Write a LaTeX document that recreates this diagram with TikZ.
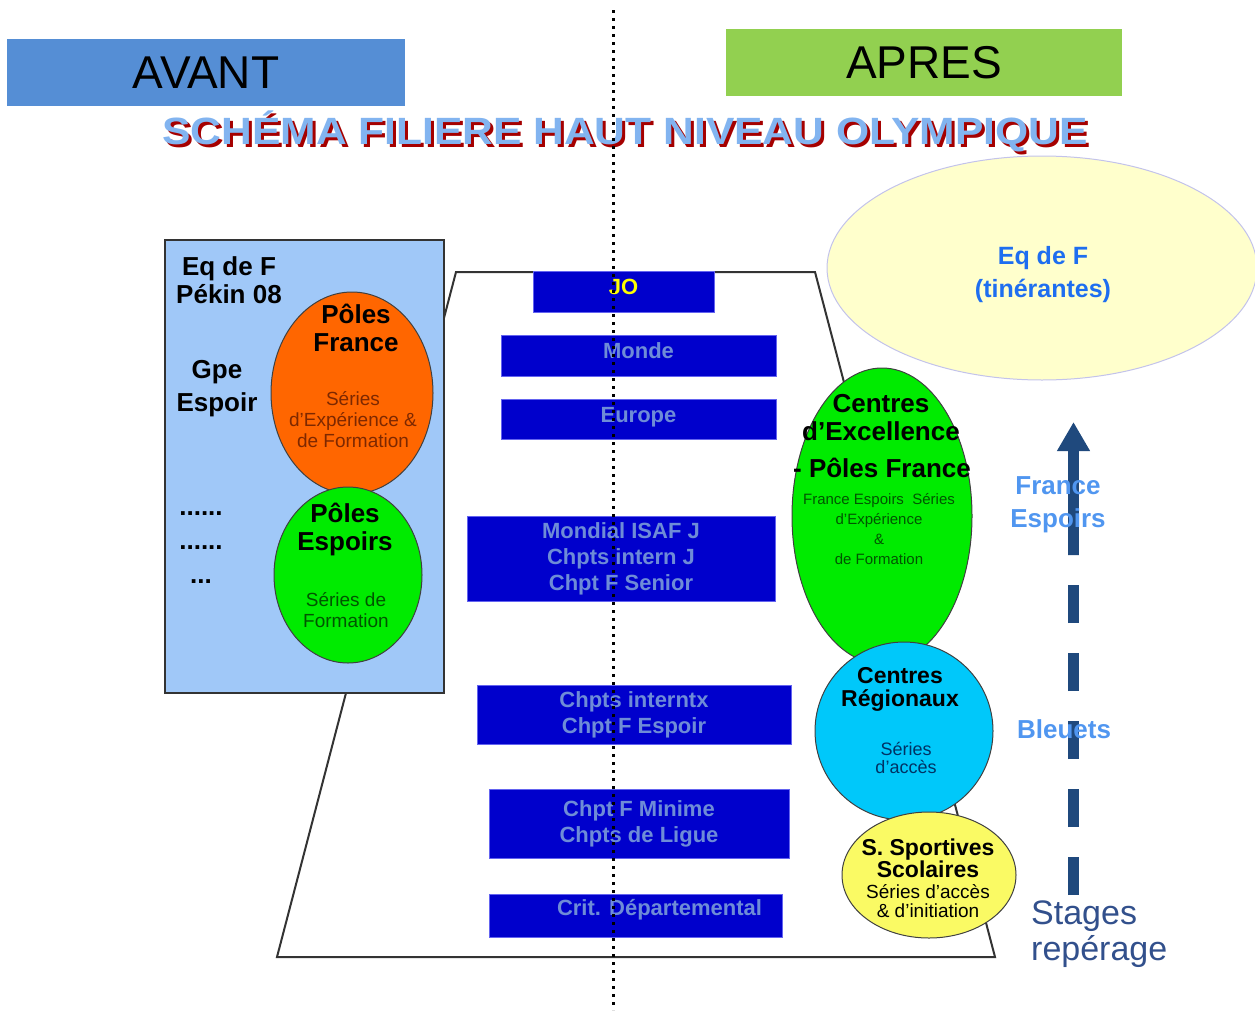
\documentclass[tikz,border=0pt]{standalone}
\usepackage{fontspec}
\setmainfont{Liberation Sans}
\usetikzlibrary{shapes.geometric,arrows.meta}

\definecolor{avantblue}{RGB}{85,142,213}
\definecolor{apresgreen}{RGB}{146,208,80}
\definecolor{titlered}{RGB}{165,0,0}
\definecolor{titlefill}{RGB}{130,180,240}
\definecolor{leftblue}{RGB}{160,200,248}
\definecolor{orangeF}{RGB}{255,102,0}
\definecolor{greenF}{RGB}{0,235,0}
\definecolor{cyanF}{RGB}{0,200,250}
\definecolor{yellowF}{RGB}{250,250,100}
\definecolor{paleyellow}{RGB}{255,255,204}
\definecolor{lavender}{RGB}{195,195,235}
\definecolor{boxblue}{RGB}{0,0,204}
\definecolor{boxedge}{RGB}{100,100,240}
\definecolor{boxtxt}{RGB}{110,140,215}
\definecolor{jojaune}{RGB}{255,255,0}
\definecolor{labelblue}{RGB}{80,150,240}
\definecolor{eqblue}{RGB}{30,110,240}
\definecolor{stagesblue}{RGB}{50,80,140}
\definecolor{arrowblue}{RGB}{31,73,125}
\definecolor{brownT}{RGB}{125,40,0}
\definecolor{dgreenT}{RGB}{0,85,0}
\definecolor{navyT}{RGB}{0,50,100}

\newcommand{\fsz}[2]{\fontsize{#1}{#2}\selectfont}
\newcommand{\titretxt}{\scalebox{1.12}[1]{SCHÉMA FILIERE HAUT NIVEAU OLYMPIQUE}}

\begin{document}
\begin{tikzpicture}[x=1pt,y=-1pt,
  niveau/.style={fill=boxblue, draw=boxedge, line width=0.8pt, text=boxtxt, inner sep=0pt, align=center, font=\bfseries\fsz{22}{26}},
  bulle/.style={ellipse, draw=black!75, line width=1pt, inner sep=0pt},
  gras/.style={font=\bfseries\fsz{26}{28}, align=center, inner sep=0pt},
  serie/.style={font=\fsz{19}{21}, align=center, inner sep=0pt}]
\useasboundingbox (0,0) rectangle (1255,1012);

% en-tetes
\node[fill=avantblue, minimum width=398, minimum height=67, inner sep=0pt, font=\fsz{46}{46}] (avant) at (206,72.5) {AVANT};
\node[fill=apresgreen, minimum width=396, minimum height=67, inner sep=0pt, font=\fsz{46}{46}] (apres) at (924,62.5) {APRES};

% titre avec ombre
\node[anchor=base, text=titlered, font=\bfseries\fsz{38}{38}] (titreombre) at (628,147) {\titretxt};
\node[anchor=base, text=titlefill, font=\bfseries\fsz{38}{38}] (titre) at (625,144) {\titretxt};

% equipe de France itinerante
\node[ellipse, fill=paleyellow, draw=lavender, line width=1pt, minimum width=430, minimum height=224, inner sep=0pt] (eqf) at (1042,268) {};
\node[gras, text=eqblue, font=\bfseries\fsz{25}{33}] (eqftxt) at (1043,275) {Eq de F\\(tinérantes)};

% trapeze des competitions
\draw[black!80, line width=2pt] (456,272) -- (815,272) -- (995,957) -- (277,957) -- cycle;

% AVANT
\node[draw=black!80, fill=leftblue, line width=1.2pt, minimum width=279, minimum height=453, inner sep=0pt] (avantbox) at (304.5,466.5) {};
\node[gras] (pekin) at (229,280) {Eq de F\\Pékin 08};
\node[gras, font=\bfseries\fsz{26}{33}] (gpe) at (217,389) {Gpe\\Espoir};
\node[gras, font=\bfseries\fsz{26}{34}] (points) at (201,548) {......\\......\\...};

\node[bulle, fill=orangeF, minimum width=162, minimum height=202] (polesfr) at (352,393) {};
\node[gras] (polesfrtxt) at (356,328) {Pôles\\France};
\node[serie, text=brownT] (polesfrser) at (353,420) {Séries\\d'Expérience \&\\de Formation};

\node[bulle, fill=greenF, minimum width=148, minimum height=176] (polesesp) at (348,575) {};
\node[gras] (polesesptxt) at (345,529) {Pôles\\Espoirs};
\node[serie, text=dgreenT] (polesespser) at (346,610) {Séries de\\Formation};

% niveaux de competition
\node[niveau, minimum width=181, minimum height=41, text depth=10pt, text=jojaune] (jo) at (623.5,291.5) {JO};
\node[niveau, minimum width=275, minimum height=41, text depth=9pt] (monde) at (638.5,355.5) {Monde};
\node[niveau, minimum width=275, minimum height=40, text depth=9pt] (europe) at (638.5,419) {Europe};
\node[niveau, minimum width=308, minimum height=85] (mondial) at (621,558.5) {Mondial ISAF J\\Chpts intern J\\Chpt F Senior};
\node[niveau, minimum width=314, minimum height=59] (internx) at (634,714.5) {Chpts interntx\\Chpt F Espoir};
\node[niveau, minimum width=300, minimum height=69] (minime) at (639,823.5) {Chpt F Minime\\Chpts de Ligue};
\node[niveau, minimum width=293, minimum height=43] (crit) at (635.5,915.5) {};
\node[text=boxtxt, font=\bfseries\fsz{22}{26}, inner sep=0pt] (crittxt) at ([xshift=24pt,yshift=6pt]crit.center) {Crit. Départemental};

% APRES
\node[bulle, fill=greenF, minimum width=180, minimum height=296] (excel) at (882,516) {};
\node[gras] (exceltxt) at (881,418) {Centres\\d'Excellence};
\node[gras, font=\bfseries\fsz{26}{28}] (excelpf) at (882,468) {- Pôles France};
\node[serie, text=dgreenT, font=\fsz{15}{20}] (excelser) at (879,529) {France Espoirs~~Séries\\d'Expérience\\\&\\de Formation};

\node[bulle, fill=cyanF, minimum width=178, minimum height=178] (region) at (904,731) {};
\node[gras, font=\bfseries\fsz{23}{23}] (regiontxt) at (900,689) {Centres\\Régionaux};
\node[serie, text=navyT, font=\fsz{18}{18}] (regionser) at (906,758) {Séries\\d'accès};

\node[bulle, fill=yellowF, minimum width=174, minimum height=126] (scol) at (929,875) {};
\node[gras, font=\bfseries\fsz{23}{22}] (scoltxt) at (928,858) {S. Sportives\\Scolaires};
\node[serie, font=\fsz{19}{19}] (scolser) at (928,901) {Séries d'accès\\\& d'initiation};

% fleche de progression
\coordinate (stagesbas) at (1073.5,895);
\coordinate (fleche) at (1073.5,555);
\coordinate (pointe) at (1073.5,422);
\draw[arrowblue, line width=11pt, dash pattern=on 38pt off 30pt] (stagesbas) -- (fleche);
\draw[arrowblue, line width=11pt, -{Triangle[width=31pt,length=29pt]}] (fleche) -- (pointe);

\node[gras, text=labelblue, font=\bfseries\fsz{26}{33}] (franceesp) at (1058,505) {France\\Espoirs};
\node[gras, text=labelblue] (bleuets) at (1064,729) {Bleuets};
\node[anchor=west, align=left, inner sep=0pt, text=stagesblue, font=\fsz{34}{36}] (stages) at (1031,934) {Stages\\repérage};

% separation avant / apres
\coordinate (sephaut) at (613,10);
\coordinate (sepbas) at (613,1010);
\draw[line width=3pt, dash pattern=on 3pt off 5pt] (sephaut) -- (sepbas);
\end{tikzpicture}
\end{document}
